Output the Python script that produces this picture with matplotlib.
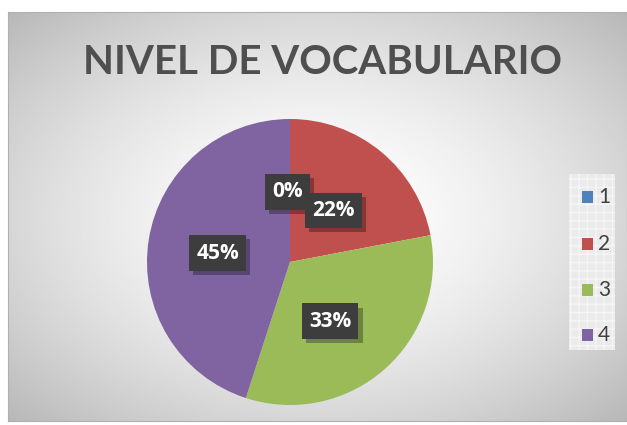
import numpy as np
import matplotlib.pyplot as plt
import matplotlib.patheffects as pe
from matplotlib.patches import Rectangle

# data
levels = ['1', '2', '3', '4']
shares = [0, 22, 33, 45]
pct_labels = ['0%', '22%', '33%', '45%']
colors = ['#4F81BD', '#C0504D', '#9BBB59', '#8064A2']

W, H = 627, 425
fig = plt.figure(figsize=(W / 100, H / 100), dpi=100)
fig.patch.set_facecolor('white')

# chart area with radial gray gradient
x0, y0, x1, y1 = 8, 12, 627, 421
bg = fig.add_axes([x0 / W, 1 - y1 / H, (x1 - x0) / W, (y1 - y0) / H])
yy, xx = np.mgrid[-1:1:200j, -1:1:300j]
rr = np.sqrt(xx ** 2 + yy ** 2) / np.sqrt(2)
bg.imshow(1 - 0.28 * rr ** 1.6, cmap='gray', vmin=0, vmax=1,
          extent=[0, 1, 0, 1], aspect='auto')
bg.set_xlim(0, 1)
bg.set_ylim(0, 1)
bg.set_xticks([])
bg.set_yticks([])
for s in bg.spines.values():
    s.set_color('#b0b0b0')

fig.text(322 / W, 1 - 62 / H, 'NIVEL DE VOCABULARIO', ha='center', va='center',
         fontsize=29, fontweight='bold', color='#4f4f4f', family='Lato')

# pie
cx, cy, r = 290, 262, 143
ax = fig.add_axes([(cx - r) / W, (H - cy - r) / H, 2 * r / W, 2 * r / H])
wedges, _ = ax.pie(shares, colors=colors, startangle=90, counterclock=False,
                   wedgeprops=dict(linewidth=0))
ax.set_xlim(-1, 1)
ax.set_ylim(-1, 1)
ax.set_aspect('equal')

# label spots (fraction of radius, angle) around each slice
label_pos = [(0.49, 92), (0.47, 50), (0.50, -56), (0.51, 173)]
for txt, (d, a) in zip(pct_labels, label_pos):
    t = ax.text(d * np.cos(np.radians(a)), d * np.sin(np.radians(a)), txt,
                ha='center', va='center', fontsize=15, fontweight='bold',
                color='white', family='Open Sans',
                bbox=dict(boxstyle='square,pad=0.35', facecolor='#3d3d3d',
                          edgecolor='none', linewidth=0))
    t.get_bbox_patch().set_path_effects(
        [pe.SimplePatchShadow(offset=(3, -3), shadow_rgbFace='#000000', alpha=0.3),
         pe.Normal()])

# legend box
lg = fig.add_axes([569 / W, 1 - 350 / H, 46 / W, 176 / H])
lg.add_patch(Rectangle((0, 0), 1, 1, facecolor='#ebebeb', edgecolor='#f5f5f5',
                       hatch='++', linewidth=0))
lg.set_xlim(0, 1)
lg.set_ylim(0, 1)
lg.axis('off')
ys = [1 - 23 / 176, 1 - 70 / 176, 1 - 116 / 176, 1 - 161 / 176]
for lab, c, yv in zip(levels, colors, ys):
    lg.add_patch(Rectangle((0.28, yv - 0.035), 0.25, 0.07,
                           facecolor=c, edgecolor='none'))
    lg.text(0.63, yv, lab, ha='left', va='center', fontsize=15,
            color='#404040', family='Lato')

fig.savefig('out.png', dpi=100)
